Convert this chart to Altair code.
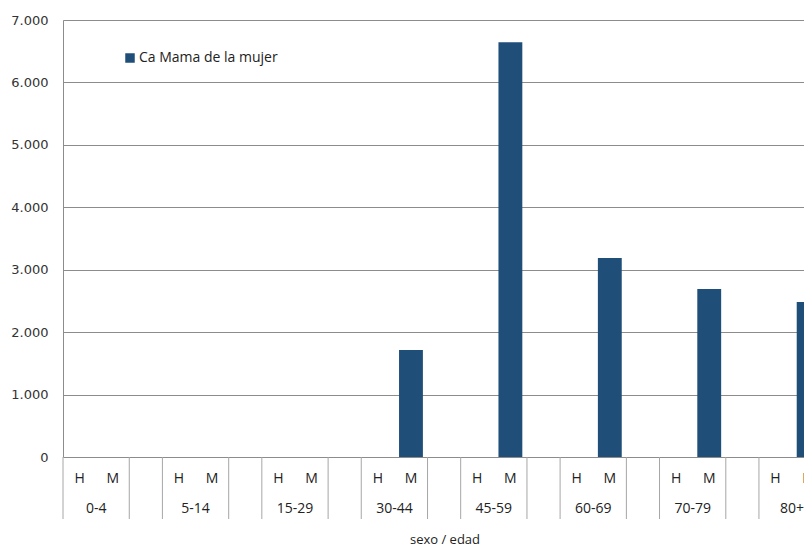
import altair as alt
import pandas as pd

# ---- data ----
edades = ["0-4", "5-14", "15-29", "30-44", "45-59", "60-69", "70-79", "80+"]
hombres = [0, 0, 0, 0, 0, 0, 0, 0]
mujeres = [0, 0, 0, 1714, 6643, 3188, 2690, 2483]
sexos = ["H", "M"]
serie = "Ca Mama de la mujer"
y_ticks = [0, 1000, 2000, 3000, 4000, 5000, 6000, 7000]

# slot layout: each age group = H slot, M slot, blank slot
rows = []
for g, edad in enumerate(edades):
    for s, (sx, vals) in enumerate(zip(sexos, [hombres, mujeres])):
        slot = 3 * g + s
        rows.append({"edad": edad, "sexo": sx, "valor": vals[g],
                     "x0": slot + 0.14, "x1": slot + 0.86, "xc": slot + 0.5,
                     "serie": serie})
bars_df = pd.DataFrame(rows)
groups_df = pd.DataFrame({"edad": edades, "xc": [3 * g + 1.0 for g in range(len(edades))]})
seps = [0.0] + [v for g in range(len(edades)) for v in (3 * g + 2.0, 3 * g + 3.0)]
seps_df = pd.DataFrame({"xs": seps})

W, H = 741, 437
XMAX = W / 33.14
xscale = alt.Scale(domain=[0, XMAX], nice=False, zero=False)
yscale = alt.Scale(domain=[0, 7000], nice=False, padding=0)
FONT = "Open Sans"
GRID = "#8c8c8c"

bars = alt.Chart(bars_df).mark_bar(clip=True).encode(
    x=alt.X("x0:Q", scale=xscale, axis=None),
    x2="x1:Q",
    y=alt.Y("valor:Q", scale=yscale,
            axis=alt.Axis(values=y_ticks, title=None, grid=True, gridColor=GRID,
                          gridOpacity=1, domain=True, domainColor=GRID, ticks=False,
                          labelPadding=15, labelFont="DejaVu Sans", labelFontSize=13,
                          labelColor="#333333",
                          labelExpr="replace(format(datum.value, ','), ',', '.')")),
    y2=alt.datum(0),
    color=alt.Color("serie:N", scale=alt.Scale(domain=[serie], range=["#1f4e79"]),
                    legend=alt.Legend(title=None, orient="none", legendX=60, legendY=31,
                                      symbolType="square", symbolSize=90,
                                      symbolStrokeWidth=0, labelFont=FONT,
                                      labelFontSize=14, labelColor="#222222",
                                      labelOffset=2)),
)

sex_labels = alt.Chart(bars_df).mark_text(font=FONT, fontSize=14, color="#222222",
                                          baseline="middle").encode(
    x=alt.X("xc:Q", scale=xscale), y=alt.value(H + 22), text="sexo:N")

age_labels = alt.Chart(groups_df).mark_text(font=FONT, fontSize=14, color="#222222",
                                            baseline="middle").encode(
    x=alt.X("xc:Q", scale=xscale), y=alt.value(H + 52), text="edad:N")

separators = alt.Chart(seps_df).mark_rule(color="#a6a6a6", strokeWidth=1).encode(
    x=alt.X("xs:Q", scale=xscale), y=alt.value(H), y2=alt.value(H + 62))

x_title = alt.Chart(pd.DataFrame({"t": ["sexo / edad"]})).mark_text(
    font=FONT, fontSize=13, color="#222222", baseline="middle").encode(
    x=alt.value(382), y=alt.value(H + 83), text="t:N")

chart = alt.layer(bars, separators, sex_labels, age_labels, x_title).properties(
    width=W, height=H,
    autosize=alt.AutoSizeParams(type="none"),
    padding={"left": 55, "top": 12, "right": 0, "bottom": 90},
).configure_view(stroke=None).configure(background="white")

chart.save("out.html", embed_options={"renderer": "svg", "actions": False})
